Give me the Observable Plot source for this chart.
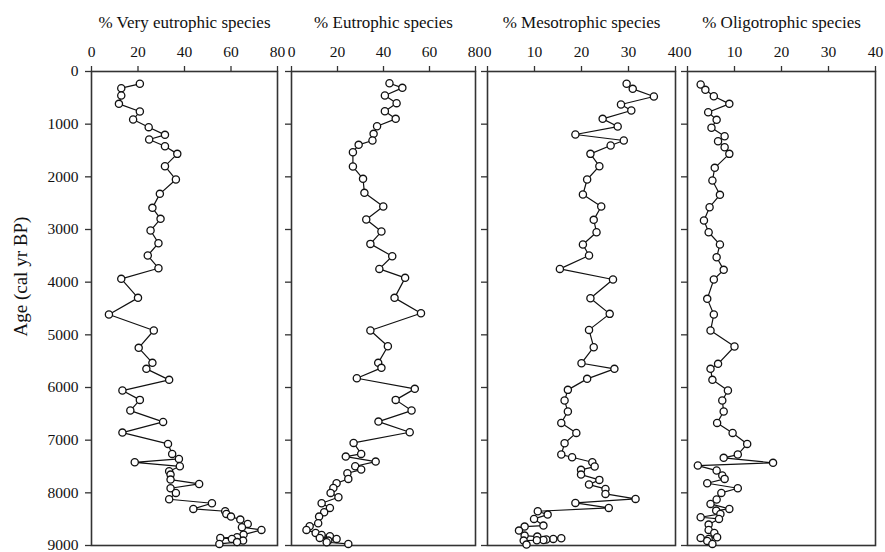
<!DOCTYPE html>
<html>
<head>
<meta charset="utf-8">
<script src="https://cdn.jsdelivr.net/npm/d3@7"></script>
<script src="https://cdn.jsdelivr.net/npm/@observablehq/plot@0.6"></script>
<style>
  body { margin: 0; background: white; }
  #chart { position: relative; width: 885px; height: 552px; overflow: hidden; background: white; }
  #chart svg { position: absolute; top: 0; background: transparent; overflow: visible; }
  #chart svg, #chart svg text { font-family: "Liberation Serif", "Times New Roman", Times, Tinos, "DejaVu Serif", "Noto Serif", serif !important; }
</style>
</head>
<body>
<div id="chart"></div>
<script>
// Ages (cal yr BP) and percentages per panel
const ages1 = [234,317,456,614,760,912,1057,1203,1291,1418,1564,1798,2051,2323,2589,2798,3020,3260,3494,3735,3937,4298,4615,4918,5247,5532,5646,5855,6058,6235,6438,6653,6856,7071,7261,7356,7420,7496,7591,7654,7749,7831,7913,8001,8122,8198,8305,8350,8400,8451,8508,8590,8654,8704,8793,8844,8856,8875,8907,8935,8970];
const veryEutrophic = [20.8,12.8,12.8,11.8,20.8,17.9,24.6,31.6,24.8,31.6,36.9,31.6,36.3,29.4,26.2,29.7,25.4,28.8,24.2,28.8,12.8,20.0,7.5,26.8,20.3,26.2,23.6,33.4,13.3,20.8,16.7,30.8,13.3,32.9,34.7,37.6,18.6,38.0,33.4,34.0,34.0,46.3,34.0,36.3,33.4,51.8,43.8,57.5,58,60.0,64.0,67.2,64.7,73.1,65.4,62.6,55.4,60.4,65.2,62.6,55.0];

const ages2 = [222,310,456,601,754,899,1039,1184,1310,1393,1532,1804,2038,2304,2564,2811,3039,3273,3507,3748,3918,4298,4590,4918,5216,5532,5627,5824,6026,6235,6438,6647,6850,7052,7261,7312,7407,7496,7558,7628,7735,7818,7906,8001,8084,8198,8286,8369,8451,8578,8635,8704,8761,8799,8825,8856,8875,8907,8938,8970];
const eutrophic = [42.6,48.2,40.6,45.7,40.6,45.3,37.2,35.7,35.2,29.2,26.7,26.7,31.1,31.7,39.9,32.5,39.1,34.3,43.8,38.2,49.4,44.8,56.3,34.3,41.9,37.7,39.1,28.4,53.6,45.3,52.2,37.8,51.4,27.0,30.3,23.6,36.6,27.7,30.3,24.3,24.7,19.6,18.2,17.0,20.4,13.1,16.7,14.2,12.0,11.6,7.9,6.5,10.5,13.1,16.7,12.3,19.6,16.0,15.3,24.7];

const ages3 = [234,329,475,627,741,899,1045,1196,1310,1405,1564,1798,2051,2336,2564,2817,3052,3286,3494,3748,3950,4305,4602,4906,5235,5539,5646,5836,6045,6248,6457,6672,6862,7058,7273,7324,7420,7501,7564,7654,7754,7843,7925,8020,8115,8191,8286,8350,8413,8495,8622,8641,8717,8812,8831,8862,8875,8885,8895,8900,8907,8983];
const mesotrophic = [29.6,30.9,35.4,28.4,30.6,24.5,27.7,18.7,29.0,26.2,21.9,23.8,21.2,20.3,24.2,22.6,23.2,20.3,21.6,15.4,26.7,21.9,26.0,21.6,22.6,20.0,27.0,21.2,17.1,16.4,17.1,15.7,18.9,16.4,15.7,18.0,22.3,22.8,19.9,19.9,23.8,21.6,25.1,25.1,31.5,18.7,25.8,10.7,12.8,9.9,11.9,7.9,6.7,7.9,10.6,15.7,14.0,12.5,11.9,10.5,7.7,8.3];

const ages4 = [247,348,469,614,773,918,1069,1229,1323,1437,1564,1829,2070,2342,2577,2830,3052,3286,3526,3766,3950,4317,4615,4918,5222,5551,5646,5855,6058,6248,6457,6672,6862,7071,7273,7336,7431,7482,7577,7672,7735,7818,7913,8001,8128,8210,8305,8337,8400,8464,8495,8603,8704,8761,8844,8856,8875,8913,8970];
const oligotrophic = [2.8,3.8,5.6,8.9,4.4,6.2,5.1,7.9,6.5,7.9,8.9,5.8,5.3,6.9,4.7,3.5,4.5,6.9,6.2,7.7,5.6,4.2,5.6,4.9,10.0,6.5,4.9,5.3,8.6,7.4,7.7,6.3,9.6,12.7,10.7,7.7,18.2,2.2,6.2,7.4,7.9,4.2,10.7,7.2,6.2,4.9,8.9,6.1,7.0,2.8,6.7,4.5,4.5,5.7,6.3,2.8,4.5,4.2,5.3];

const titles = ["% Very eutrophic species", "% Eutrophic species", "% Mesotrophic species", "% Oligotrophic species"];
const xMax = [80, 80, 40, 40];
const xTicks = [[0,20,40,60,80],[0,20,40,60,80],[0,10,20,30,40],[0,10,20,30,40]];
const ageTicks = [0,1000,2000,3000,4000,5000,6000,7000,8000,9000];
const yLabel = "Age (cal yr BP)";

const series = [[ages1, veryEutrophic],[ages2, eutrophic],[ages3, mesotrophic],[ages4, oligotrophic]];

// layout (frame left/right in page pixels)
const frames = [[91,277],[291,475],[487,675],[687,875]];
const H = 552, MT = 71, MB = 7;
const FONT = "'Liberation Serif', 'Times New Roman', Times, Tinos, 'DejaVu Serif', 'Noto Serif', serif";
const container = document.getElementById("chart");

series.forEach(([ages, vals], i) => {
  const data = ages.map((a, k) => ({age: a, v: vals[k]}));
  const [fl, fr] = frames[i];
  const ml = i === 0 ? fl : 10;
  const mr = 6;
  const width = ml + (fr - fl) + mr;
  const marks = [
    Plot.axisX({anchor: "top", ticks: xTicks[i], tickSize: 6, tickPadding: 9, label: null, stroke: "#333", strokeWidth: 1.3, fontSize: 15.5, fontFamily: FONT}),
    Plot.axisY({anchor: "left", ticks: ageTicks, tickSize: 6, tickPadding: 7, label: null, stroke: "#333", strokeWidth: 1.3, fontSize: 15.5, fontFamily: FONT,
      tickFormat: i === 0 ? (d => String(d)) : () => ""}),
    Plot.frame({stroke: "#333", strokeWidth: 1.6}),
    Plot.line(data, {x: "v", y: "age", stroke: "#111", strokeWidth: 1.2}),
    Plot.dot(data, {x: "v", y: "age", r: 3.6, fill: "white", stroke: "#111", strokeWidth: 1.3}),
    Plot.text([titles[i]], {frameAnchor: "top", dy: -56, text: d => d, fontSize: 17, fontFamily: FONT, fill: "#111"})
  ];
  if (i === 0) {
    marks.push(Plot.text([yLabel], {frameAnchor: "left", dx: -71, dy: 28, rotate: -90, text: d => d, fontSize: 19, fontFamily: FONT, fill: "#111"}));
  }
  const svg = Plot.plot({
    width, height: H,
    marginLeft: ml, marginRight: mr, marginTop: MT, marginBottom: MB,
    style: {fontFamily: FONT, fontSize: "15.5px", color: "#111", background: "transparent", overflow: "visible"},
    x: {domain: [0, xMax[i]]},
    y: {domain: [0, 9000], reverse: true},
    marks
  });
  svg.style.left = (fl - ml) + "px";
  container.appendChild(svg);
});
</script>
</body>
</html>
